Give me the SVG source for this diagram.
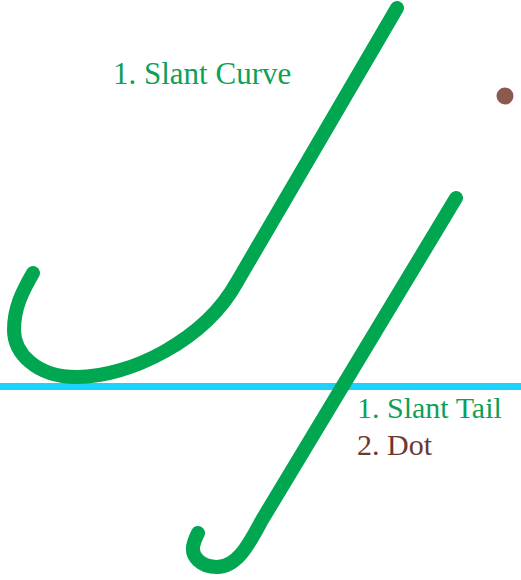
<svg xmlns="http://www.w3.org/2000/svg" width="521" height="580" viewBox="0 0 521 580">
<style>
.stroke{fill:none;stroke:#00A650;stroke-width:14;stroke-linecap:round;stroke-linejoin:round}
.lbl{font-family:"Liberation Serif",serif;font-size:30px}
.g{fill:#0E9F58}
.b{fill:#6B3A2E}
</style>
<rect width="521" height="580" fill="#fff"/>
<g id="baseline"><line x1="0" y1="386.5" x2="521" y2="386.5" stroke="#1DD2FB" stroke-width="7"/></g>
<g id="connectors">
<path id="slant-curve" class="stroke" d="M397,8 L237,282 C205,340 130,377 77,377 C35,377 14,352 14,330 C14,308 22,292 33,273"/>
<path id="slant-tail" class="stroke" d="M456,198 L262,520 C250,542 238,567 217,567 C200,567 192,556 193,547 C194,541 196,537 198,533"/>
</g>
<g id="dot"><circle cx="505" cy="96" r="8.5" fill="#8B5A4F"/></g>
<g id="label-curve"><text class="lbl g" x="113" y="84" style="font-size:31px">1. Slant Curve</text></g>
<g id="label-tail"><text class="lbl g" x="357" y="418">1. Slant Tail</text><text class="lbl b" x="357" y="455">2. Dot</text></g>
</svg>
